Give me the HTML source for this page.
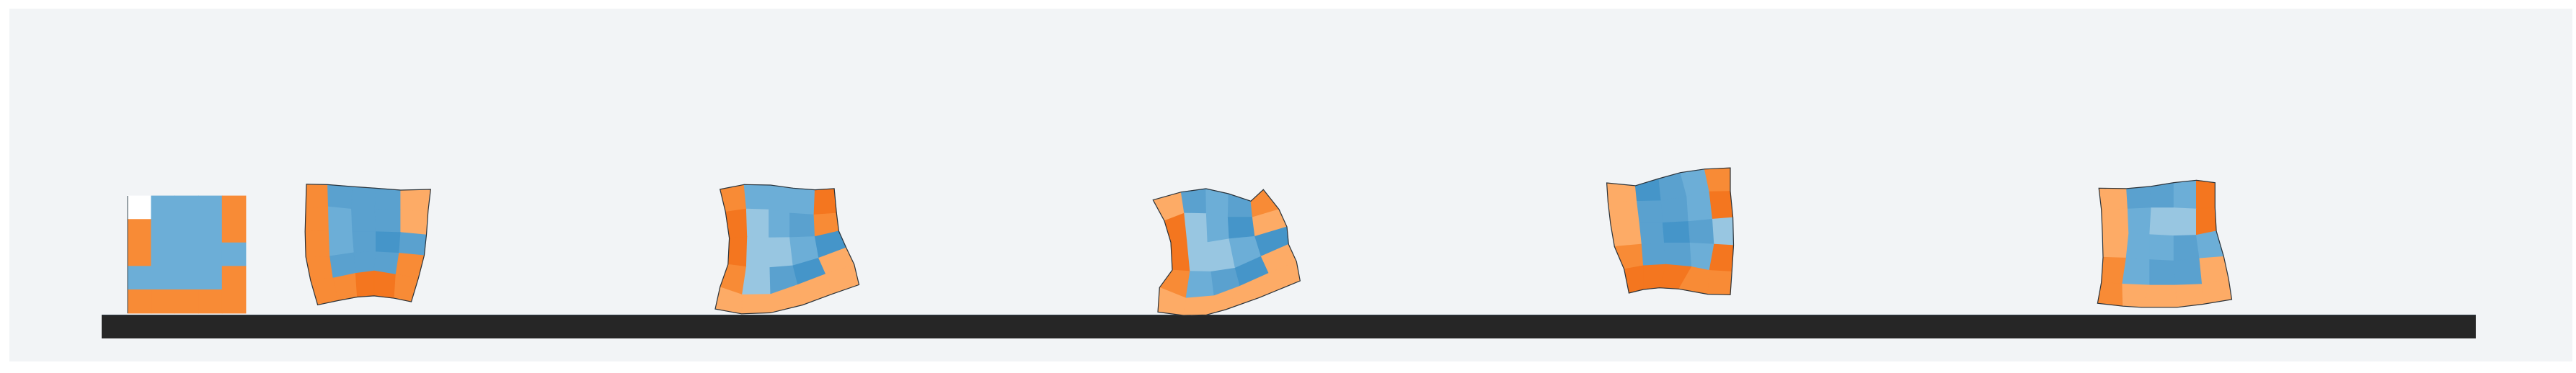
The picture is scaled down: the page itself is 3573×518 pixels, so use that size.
<!DOCTYPE html>
<html><head><meta charset="utf-8"><style>
html,body{margin:0;padding:0;background:#fff;}
svg{display:block;}
</style></head><body>
<svg id="chart" width="3573" height="518" viewBox="0 0 3573 518" xmlns="http://www.w3.org/2000/svg">
<rect x="13" y="12" width="3555" height="490" fill="#f2f4f6"/>
<rect x="141" y="437" width="3293" height="33" fill="#262626"/>
<line x1="141" y1="437.5" x2="3434" y2="437.5" stroke="#2f3d48" stroke-width="1"/>
<g id="shapes"></g>
</svg>
<script>
// Color palette keys
const palette = {O:"#f88b36", D:"#f4761f", L:"#fdab66", B:"#5aa1cf", T:"#6caed7", P:"#98c6e1", K:"#4595c9", W:"#ffffff"};

// Shape 1 (rest state) grid bounds: x-range and y-range
const shape1Range = [177, 341, 272, 435];
const shape1Colors = ["WTTTO","OTTTO","OTTTT","TTTTO","OOOOO"];

const shape2Origin = [0, 0, 2.24, 3.03];
const shape2Nodes = [
[[952,775],[1018,777],[1095,785],[1168,792],[1245,800],[1338,797]],
[[950,875],[1020,870],[1092,880],[1165,880],[1245,885],[1330,888]],
[[948,975],[1022,970],[1095,975],[1168,975],[1245,978],[1325,988]],
[[950,1080],[1025,1078],[1100,1063],[1168,1060],[1240,1065],[1318,1075]],
[[965,1180],[1035,1170],[1105,1150],[1162,1140],[1230,1155],[1300,1170]],
[[987,1283],[1050,1265],[1110,1250],[1162,1245],[1225,1255],[1278,1270]]];
const shape2Colors = ["OBBBL","OTBBL","OTBKB","OBBBO","OODDO"];

const shape3Origin = [600, 200, 2.24, 3.02];
const shape3Nodes = [
[[893,190],[968,170],[1050,172],[1120,185],[1188,192],[1248,187]],
[[910,285],[975,272],[1045,275],[1110,290],[1185,297],[1255,290]],
[[922,395],[978,390],[1045,393],[1110,392],[1188,388],[1262,365]],
[[918,505],[975,515],[1048,518],[1120,510],[1200,478],[1285,435]],
[[893,600],[962,632],[1050,630],[1135,590],[1222,545],[1310,505]],
[[878,692],[960,712],[1050,708],[1150,675],[1240,630],[1325,590]]];
const shape3Colors = ["OTTTD","DPTBO","DPPTK","OPBKL","LLLLL"];

const shape4Origin = [1500, 200, 3, 3];
const shape4Nodes = [
[[298,233],[415,200],[518,186],[612,207],[705,238],[757,190]],
[[345,320],[428,288],[520,290],[610,305],[712,305],[822,272]],
[[372,410],[440,405],[525,410],[615,395],[722,385],[855,345]],
[[378,525],[452,530],[540,532],[640,517],[748,468],[862,418]],
[[325,598],[435,642],[552,632],[660,592],[780,538],[895,490]],
[[318,700],[425,714],[520,712],[600,690],[740,640],[910,570]]];
const shape4Colors = ["LBTBO","DPTKL","DPPTK","OTBKL","LLLLL"];

const shape5Origin = [1900, 200, 2.24, 3.02];
const shape5Nodes = [
[[736,163],[825,175],[898,145],[965,120],[1040,105],[1120,100]],
[[740,245],[830,240],[905,238],[985,220],[1055,200],[1120,198]],
[[748,335],[838,330],[910,330],[990,325],[1065,315],[1128,308]],
[[760,430],[845,420],[915,415],[995,415],[1070,420],[1130,425]],
[[790,525],[850,510],[920,505],[1000,515],[1055,530],[1125,535]],
[[805,625],[850,610],[900,603],[960,608],[1050,630],[1120,632]]];
const shape5Colors = ["LKBTO","LBBTD","LBKBP","OBBTD","DDDOO"];

const shape6Origin = [2600, 200, 2.24, 3.02];
const shape6Nodes = [
[[697,185],[783,187],[858,178],[930,162],[1000,152],[1058,162]],
[[705,275],[787,272],[860,268],[930,268],[1000,272],[1058,265]],
[[708,375],[790,375],[855,380],[930,385],[1000,382],[1062,365]],
[[710,475],[782,478],[855,485],[930,490],[1010,480],[1085,472]],
[[705,580],[770,587],[855,592],[935,592],[1018,588],[1100,565]],
[[693,668],[772,680],[830,685],[940,685],[1020,672],[1110,652]]];
const shape6Colors = ["LBBTD","LTPPD","LTTBT","OTBBL","OLLLL"];

const NS = "http://www.w3.org/2000/svg";
const root = document.getElementById("shapes");

function mapNodes(nodes, origin){
  return nodes.map(r => r.map(p => [origin[0] + p[0]/origin[2], origin[1] + p[1]/origin[3]]));
}
function rectNodes(range){
  const g = [];
  for (let i = 0; i <= 5; i++){ const row = [];
    for (let j = 0; j <= 5; j++) row.push([range[0] + (range[1]-range[0])*j/5, range[2] + (range[3]-range[2])*i/5]);
    g.push(row); }
  return g;
}
function drawShape(name, nodes, colors, outline){
  const g = document.createElementNS(NS, "g");
  
  
  root.appendChild(g);
  for (let i = 0; i < 5; i++) for (let j = 0; j < 5; j++){
    const pts = [nodes[i][j], nodes[i][j+1], nodes[i+1][j+1], nodes[i+1][j]];
    const poly = document.createElementNS(NS, "polygon");
    
    
    const c = palette[colors[i][j]];
    poly.setAttribute("points", pts.map(p => p[0].toFixed(1) + "," + p[1].toFixed(1)).join(" "));
    poly.setAttribute("fill", c);
    poly.setAttribute("stroke", c);
    poly.setAttribute("stroke-width", "0.8");
    g.appendChild(poly);
  }
  if (outline){
    const b = [];
    for (let j = 0; j <= 5; j++) b.push(nodes[0][j]);
    for (let i = 1; i <= 5; i++) b.push(nodes[i][5]);
    for (let j = 4; j >= 0; j--) b.push(nodes[5][j]);
    for (let i = 4; i >= 1; i--) b.push(nodes[i][0]);
    const o = document.createElementNS(NS, "polygon");
    
    
    o.setAttribute("points", b.map(p => p[0].toFixed(1) + "," + p[1].toFixed(1)).join(" "));
    o.setAttribute("fill", "none");
    o.setAttribute("stroke", "#2a333b");
    o.setAttribute("stroke-width", "1.2");
    g.appendChild(o);
  } else {
    const l = document.createElementNS(NS, "line");
    
    
    l.setAttribute("x1", nodes[0][0][0]); l.setAttribute("y1", nodes[0][0][1]);
    l.setAttribute("x2", nodes[5][0][0]); l.setAttribute("y2", nodes[5][0][1]);
    l.setAttribute("stroke", "#3a4a55"); l.setAttribute("stroke-width", "1");
    g.appendChild(l);
  }
}
drawShape("soft-body-frame-1", rectNodes(shape1Range), shape1Colors, false);
drawShape("soft-body-frame-2", mapNodes(shape2Nodes, shape2Origin), shape2Colors, true);
drawShape("soft-body-frame-3", mapNodes(shape3Nodes, shape3Origin), shape3Colors, true);
drawShape("soft-body-frame-4", mapNodes(shape4Nodes, shape4Origin), shape4Colors, true);
drawShape("soft-body-frame-5", mapNodes(shape5Nodes, shape5Origin), shape5Colors, true);
drawShape("soft-body-frame-6", mapNodes(shape6Nodes, shape6Origin), shape6Colors, true);
</script>
</body></html>
